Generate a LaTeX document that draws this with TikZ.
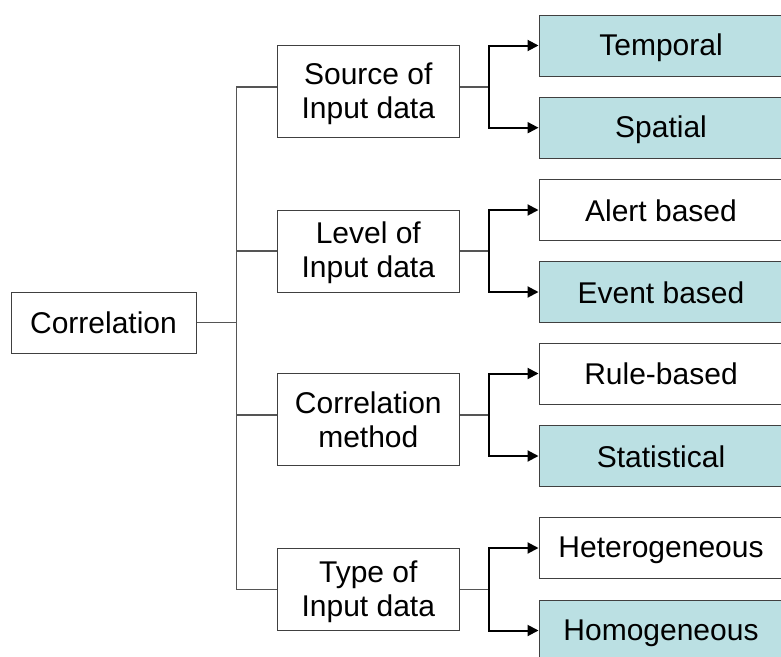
\documentclass[tikz,border=0pt]{standalone}
\usepackage{fontspec}
\setmainfont{Liberation Sans}
\usetikzlibrary{arrows.meta}
\definecolor{boxfill}{RGB}{187,224,227}
\definecolor{linegray}{RGB}{85,85,85}
\newcommand{\tstrut}{\rule[-4pt]{0pt}{30pt}}

\begin{document}
\begin{tikzpicture}[x=1pt, y=-1pt,
        box/.style={rectangle, draw=black!75, line width=1pt, align=center, inner sep=0pt, font=\fontsize{30}{34}\selectfont},
        catbox/.style={box, minimum width=182pt},
        leafbox/.style={box, minimum width=244pt, minimum height=61pt},
        shaded/.style={fill=boxfill},
        tree/.style={draw=linegray, line width=1.3pt},
        arr/.style={draw=black, line width=2pt, -{Triangle[length=11pt,width=11pt]}}]
        \clip (0,0) rectangle (781,656);

        % Vertices
        \node[box, minimum width=185pt, minimum height=61pt] (corr) at (103.5,322.7) {\tstrut Correlation};
        \node[catbox, minimum height=92pt] (src) at (368.3,91.7) {\tstrut Source of\\\tstrut Input data};
        \node[catbox, minimum height=82pt] (lvl) at (368.3,251) {\tstrut Level of\\\tstrut Input data};
        \node[catbox, minimum height=92pt] (meth) at (368.3,419.8) {\tstrut Correlation\\\tstrut method};
        \node[catbox, minimum height=82pt] (type) at (368.3,589.3) {\tstrut Type of\\\tstrut Input data};

        \node[leafbox, shaded] (temp) at (661,45.5) {\tstrut Temporal};
        \node[leafbox, shaded] (spat) at (661,127.7) {\tstrut Spatial};
        \node[leafbox] (alert) at (661,210) {\tstrut Alert based};
        \node[leafbox, shaded] (event) at (661,292) {\tstrut Event based};
        \node[leafbox] (rule) at (661,373.5) {\tstrut Rule-based};
        \node[leafbox, shaded] (stat) at (661,456) {\tstrut Statistical};
        \node[leafbox] (het) at (661,548) {\tstrut Heterogeneous};
        \node[leafbox, shaded] (hom) at (661,630.5) {\tstrut Homogeneous};

        % Joints
        \coordinate (trunk) at (236.7,322.7);
        \coordinate (srcj) at (489.3,87);
        \coordinate (lvlj) at (489.3,251);
        \coordinate (methj) at (489.3,415);
        \coordinate (typej) at (489.3,589.3);

        % Tree lines
        \draw[tree] (corr) -- (trunk);
        \draw[tree] (trunk) |- (src.west |- srcj);
        \draw[tree] (trunk) |- (lvl.west |- lvlj);
        \draw[tree] (trunk) |- (meth.west |- methj);
        \draw[tree] (trunk) |- (type.west |- typej);

        \draw[tree] (src.east |- srcj) -- (srcj);
        \draw[tree] (lvl.east |- lvlj) -- (lvlj);
        \draw[tree] (meth.east |- methj) -- (methj);
        \draw[tree] (type.east |- typej) -- (typej);

        % Arrows
        \draw[arr] (srcj) |- (temp);
        \draw[arr] (srcj) |- (spat);
        \draw[arr] (lvlj) |- (alert);
        \draw[arr] (lvlj) |- (event);
        \draw[arr] (methj) |- (rule);
        \draw[arr] (methj) |- (stat);
        \draw[arr] (typej) |- (het);
        \draw[arr] (typej) |- (hom);
    \end{tikzpicture}
\end{document}
